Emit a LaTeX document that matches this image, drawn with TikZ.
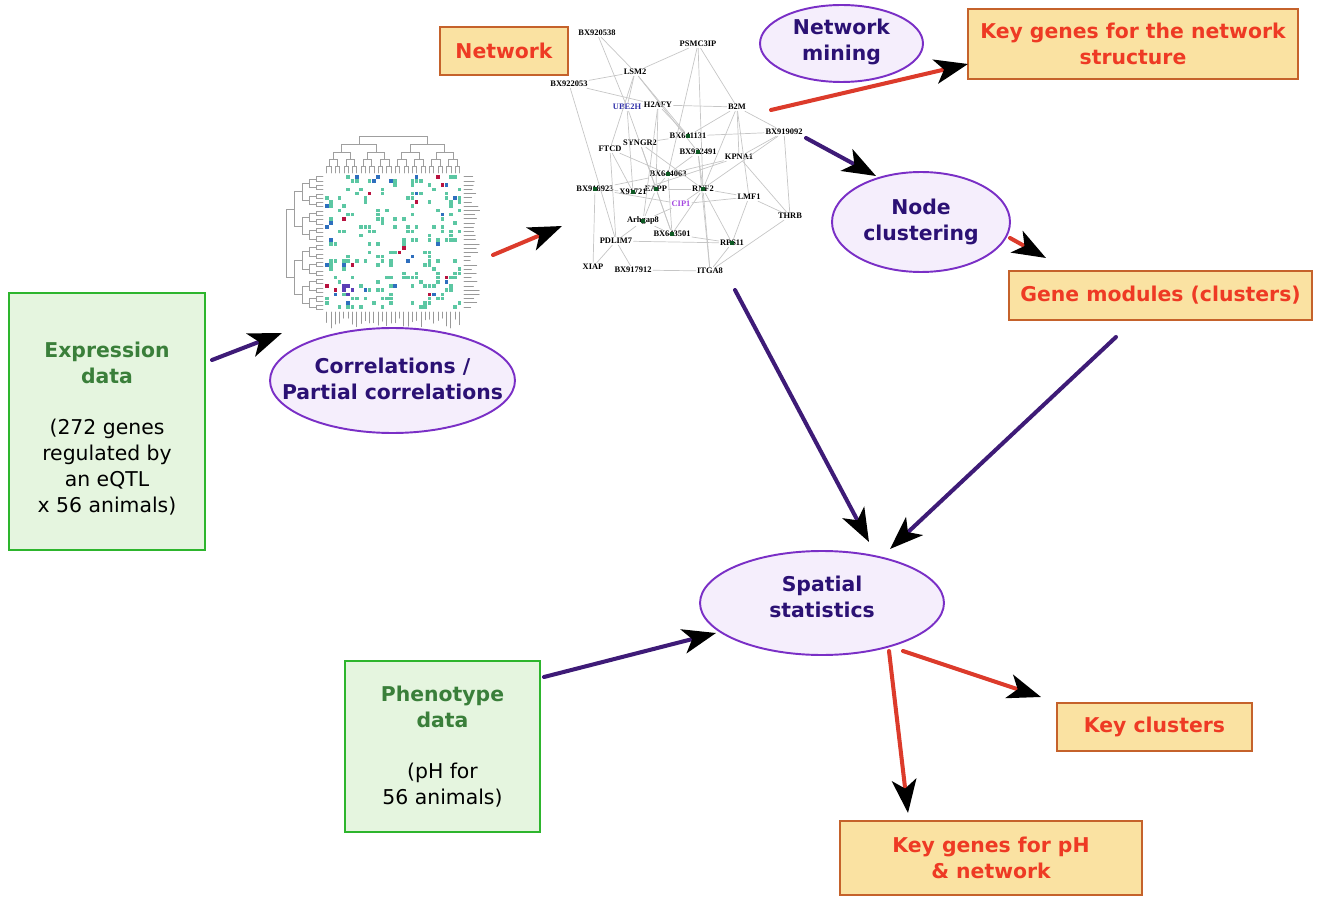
\documentclass[tikz,border=0pt]{standalone}
\usepackage{fontspec}
\setmainfont{DejaVu Sans}
\newfontfamily\genefont{Liberation Serif}
\usepackage{tikz}
\usetikzlibrary{arrows.meta, calc, shapes.geometric}
\definecolor{boxGreen}{HTML}{2DB52D}
\definecolor{fillGreen}{HTML}{E5F5DF}
\definecolor{titleGreen}{HTML}{3A7F3A}
\definecolor{ovalLine}{HTML}{7A2FC6}
\definecolor{ovalFill}{HTML}{F5EEFC}
\definecolor{ovalText}{HTML}{2B1174}
\definecolor{keyFill}{HTML}{FAE2A2}
\definecolor{keyLine}{HTML}{C5622B}
\definecolor{keyText}{HTML}{EE3A24}
\definecolor{arrowRed}{HTML}{DC3B2B}
\definecolor{arrowPurple}{HTML}{3E1B77}
\definecolor{edgeGray}{HTML}{C6C6C6}
\definecolor{geneBlue}{HTML}{2F2FA8}
\definecolor{genePurple}{HTML}{A447E0}
\definecolor{dotGreen}{HTML}{0E5A24}
\definecolor{cellTeal}{HTML}{5CC7A3}
\definecolor{cellBlue}{HTML}{2E6FBE}
\definecolor{cellOrange}{HTML}{F26B2E}
\definecolor{cellCrimson}{HTML}{B8123F}
\definecolor{cellViolet}{HTML}{5B3FB5}
\newcommand\lbl{\fontsize{11.6}{14.7}\selectfont}
\newcommand\ttl[1]{\textcolor{titleGreen}{\bfseries #1}}
\newcommand\hcell[3]{\fill[#3] ({325+4.28*#1},{175+4.2*#2}) rectangle ++(3.6,3.6);}

\begin{document}
\begin{tikzpicture}[x=0.02cm, y=-0.02cm, line cap=round]
  \tikzset{
    databox/.style={draw=boxGreen, line width=1.5pt, fill=fillGreen},
    datatext/.style={align=center, font=\lbl},
    keybox/.style={draw=keyLine, line width=1.3pt, fill=keyFill, text=keyText, align=center, font=\lbl\bfseries},
    oval/.style={ellipse, draw=ovalLine, line width=1.1pt, fill=ovalFill, inner sep=0pt},
    ovaltext/.style={text=ovalText, align=center, font=\lbl\bfseries},
    gene/.style={font=\genefont\fontsize{4.8}{5}\selectfont\bfseries, inner sep=0.6pt},
    link/.style={draw=edgeGray, line width=0.4pt},
    tree/.style={draw=gray!75, line width=0.35pt},
    redarrow/.style={draw=arrowRed, line width=2.3pt, -{Stealth[color=black, length=19pt, width=14pt, inset=5pt]}},
    purparrow/.style={draw=arrowPurple, line width=2.3pt, -{Stealth[color=black, length=19pt, width=14pt, inset=5pt]}}
  }
  \useasboundingbox (0,0) rectangle (1318,898);

  % data boxes
  \node[databox, minimum width=3.92cm, minimum height=5.14cm,
    label={[datatext, yshift=-0.14cm]center:\ttl{Expression}\\\ttl{data}\\[14.7pt](272 genes\\regulated by\\an eQTL\\x 56 animals)}] (expr) at (107,421.5) {};
  \node[databox, minimum width=3.9cm, minimum height=3.42cm,
    label={[datatext]center:\ttl{Phenotype}\\\ttl{data}\\[14.7pt](pH for\\56 animals)}] (pheno) at (442.5,746.5) {};

  % result boxes
  \node[keybox, minimum width=2.56cm, minimum height=0.96cm] (netbox) at (504,51) {Network};
  \node[keybox, minimum width=6.6cm, minimum height=1.4cm] (keynet) at (1133,44) {Key genes for the network\\structure};
  \node[keybox, minimum width=6.06cm, minimum height=0.98cm] (modules) at (1160.5,295.5) {Gene modules (clusters)};
  \node[keybox, minimum width=3.9cm, minimum height=0.96cm] (keyclust) at (1154.5,727) {Key clusters};
  \node[keybox, minimum width=6.04cm, minimum height=1.48cm] (keyph) at (991,858) {Key genes for pH\\\& network};

  % methods
  \node[oval, minimum width=3.26cm, minimum height=1.54cm,
    label={[ovaltext, yshift=0.03cm]center:Network\\mining}] (mining) at (841.5,43.5) {};
  \node[oval, minimum width=3.56cm, minimum height=2cm,
    label={[ovaltext]center:Node\\clustering}] (clust) at (921,222) {};
  \node[oval, minimum width=4.9cm, minimum height=2.1cm,
    label={[ovaltext, yshift=0.04cm]center:Correlations /\\Partial correlations}] (corr) at (392.5,380.5) {};
  \node[oval, minimum width=4.88cm, minimum height=2.08cm,
    label={[ovaltext, yshift=0.12cm]center:Spatial\\statistics}] (spatial) at (822,603) {};

  % heatmap
  \coordinate (heat) at (382,232);
  \pgfmathsetseed{11}
  \foreach \i in {0,...,31}{
    \foreach \j in {0,...,31}{
      \ifnum\j>\i
        \pgfmathsetmacro\r{rnd}
        \ifdim\r pt<0.16pt \hcell{\i}{\j}{cellTeal}\hcell{\j}{\i}{cellTeal}\fi
        \ifdim\r pt>0.16pt \ifdim\r pt<0.185pt \hcell{\i}{\j}{cellBlue}\hcell{\j}{\i}{cellBlue}\fi\fi
        \ifdim\r pt>0.185pt \ifdim\r pt<0.192pt \hcell{\i}{\j}{cellOrange}\hcell{\j}{\i}{cellOrange}\fi\fi
        \ifdim\r pt>0.192pt \ifdim\r pt<0.198pt \hcell{\i}{\j}{cellCrimson}\hcell{\j}{\i}{cellCrimson}\fi\fi
      \fi
    }
  }
  \foreach \i/\j in {4/26, 5/26, 6/27, 4/27, 5/28}{\hcell{\i}{\j}{cellViolet}}
  \foreach \L/\g/\h/\hp in {1/2/7/0, 2/4/14/7, 3/8/21/14, 4/16/29/21, 5/32/37/29}{
    \pgfmathtruncatemacro\m{32/\g-1}
    \foreach \n in {0,...,\m}{
      \pgfmathsetmacro\a{4.28*(\n*\g+(\g/2-1)/2)+1.8}
      \pgfmathsetmacro\b{\a+4.28*\g/2}
      \draw[tree] ({325+\a},{173-\hp}) -- ({325+\a},{173-\h}) -- ({325+\b},{173-\h}) -- ({325+\b},{173-\hp});
      \draw[tree] ({323-\hp},{175+\a}) -- ({323-\h},{175+\a}) -- ({323-\h},{175+\b}) -- ({323-\hp},{175+\b});
    }
  }
  \foreach \k in {0,...,31}{
    \pgfmathsetmacro\len{6+10*rnd}
    \draw[gray!80, line width=0.5pt] (464,{176.8+4.2*\k}) -- ++(\len,0);
    \pgfmathsetmacro\len{6+10*rnd}
    \draw[gray!80, line width=0.5pt] ({326.8+4.28*\k},312) -- ++(0,\len);
  }

  % network
  \coordinate (graph) at (675,150);
  \node[gene] (bx920538) at (597,33) {BX920538};
  \node[gene] (psmc3ip) at (698,44) {PSMC3IP};
  \node[gene] (lsm2) at (635,72) {LSM2};
  \node[gene] (bx922053) at (569,84) {BX922053};
  \node[gene, text=geneBlue] (ube2h) at (627,107) {UBE2H};
  \node[gene] (h2afy) at (658,105) {H2AFY};
  \node[gene] (b2m) at (737,107) {B2M};
  \node[gene] (bx919092) at (784,132) {BX919092};
  \node[gene] (bx641131) at (688,136) {BX641131};
  \node[gene] (syngr2) at (640,143) {SYNGR2};
  \node[gene] (ftcd) at (610,149) {FTCD};
  \node[gene] (bx922491) at (698,152) {BX922491};
  \node[gene] (kpna1) at (739,157) {KPNA1};
  \node[gene] (bx644063) at (668,174) {BX644063};
  \node[gene] (bx918923) at (595,189) {BX918923};
  \node[gene] (x91721) at (633,192) {X91721};
  \node[gene] (eapp) at (656,189) {EAPP};
  \node[gene] (rnf2) at (703,189) {RNF2};
  \node[gene, text=genePurple] (cip1) at (681,204) {CIP1};
  \node[gene] (lmf1) at (749,197) {LMF1};
  \node[gene] (thrb) at (790,216) {THRB};
  \node[gene] (arhgap8) at (643,221) {Arhgap8};
  \node[gene] (bx643501) at (672,234) {BX643501};
  \node[gene] (pdlim7) at (616,241) {PDLIM7};
  \node[gene] (rps11) at (732,243) {RPS11};
  \node[gene] (xiap) at (593,267) {XIAP};
  \node[gene] (bx917912) at (633,270) {BX917912};
  \node[gene] (itga8) at (710,271) {ITGA8};
  \foreach \a/\b in {bx920538/lsm2, bx920538/ube2h, psmc3ip/b2m, psmc3ip/bx644063, psmc3ip/rnf2,
      psmc3ip/lsm2, bx922053/lsm2, bx922053/pdlim7, bx922053/h2afy, lsm2/ube2h, lsm2/bx641131,
      lsm2/bx922491, lsm2/ftcd, ube2h/h2afy, ube2h/syngr2, ube2h/x91721, h2afy/b2m, h2afy/bx641131,
      h2afy/eapp, h2afy/arhgap8, b2m/bx919092, b2m/kpna1, b2m/rnf2, b2m/lmf1, b2m/bx641131,
      bx919092/bx641131, bx919092/thrb, bx919092/kpna1, bx919092/cip1, syngr2/bx641131, syngr2/eapp,
      syngr2/rnf2, syngr2/bx643501, ftcd/bx644063, ftcd/pdlim7, ftcd/x91721, bx922491/bx644063,
      bx922491/rnf2, bx922491/itga8, kpna1/bx644063, kpna1/thrb, kpna1/x91721, bx644063/bx918923,
      bx644063/eapp, bx644063/bx643501, bx918923/x91721, bx918923/cip1, bx918923/xiap, eapp/rnf2,
      eapp/arhgap8, eapp/bx643501, rnf2/lmf1, rnf2/rps11, rnf2/itga8, rnf2/bx643501, cip1/lmf1,
      cip1/arhgap8, lmf1/thrb, lmf1/rps11, thrb/itga8, arhgap8/pdlim7, arhgap8/bx643501,
      pdlim7/xiap, pdlim7/bx917912, pdlim7/rps11, bx643501/rps11, bx917912/itga8, rps11/itga8}
    \draw[link] (\a) -- (\b);
  \foreach \g in {bx641131, bx922491, bx644063, bx918923, x91721, eapp, rnf2, arhgap8, bx643501, rps11}
    \fill[dotGreen] ($(\g.center)+(-2,-2)$) rectangle ++(4,4);

  % flow
  \draw[purparrow] ($(expr.center)+(105,-61.5)$) -- ($(heat)+(-100,101)$);
  \draw[redarrow] ($(heat)+(111,23)$) -- ($(graph)+(-113,76)$);
  \draw[redarrow] ($(graph)+(96,-40)$) -- ($(keynet.center)+(-165,20)$);
  \draw[purparrow] ($(graph)+(131,-12)$) -- ($(clust.center)+(-45,-46)$);
  \draw[redarrow] ($(clust.center)+(89,16)$) -- ($(modules.center)+(-114.5,-37.5)$);
  \draw[purparrow] ($(graph)+(60,140)$) -- ($(spatial.center)+(47,-61)$);
  \draw[purparrow] ($(modules.center)+(-44.5,41.5)$) -- ($(spatial.center)+(68,-54)$);
  \draw[purparrow] ($(pheno.center)+(101.5,-69.5)$) -- ($(spatial.center)+(-106,30)$);
  \draw[redarrow] ($(spatial.center)+(67,48)$) -- ($(keyph.center)+(-83,-45)$);
  \draw[redarrow] ($(spatial.center)+(81,48)$) -- ($(keyclust.center)+(-113.5,-30)$);
\end{tikzpicture}
\end{document}
